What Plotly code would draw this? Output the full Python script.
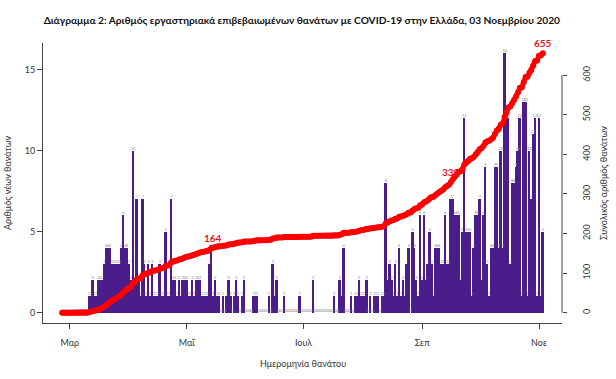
import numpy as np
import pandas as pd
import plotly.graph_objects as go

# ---------------- data (daily lab-confirmed COVID-19 deaths, Greece) ----------------
start_date = "2020-02-26"
feb = [0, 0, 0, 0]
mar = [0, 0, 0, 0, 0, 0, 0, 0, 0, 0, 1, 1, 2, 1, 1, 2, 2, 2, 3, 4,
       4, 4, 3, 3, 3, 3, 3, 4, 6, 4, 4]
apr = [3, 2, 10, 2, 7, 2, 1, 7, 3, 1, 3, 1, 3, 1, 1, 1, 3, 1, 1, 5,
       1, 1, 7, 2, 2, 1, 2, 1, 2, 2]
may = [2, 1, 1, 2, 1, 2, 2, 2, 1, 1, 1, 1, 3, 4, 1, 2, 1, 1, 0, 1,
       0, 1, 2, 1, 0, 1, 2, 1, 0, 1, 2]
jun = [0, 0, 0, 0, 1, 1, 1, 0, 0, 0, 0, 0, 1, 0, 3, 1, 2, 0, 0, 0,
       1, 0, 0, 0, 0, 0, 0, 0, 1, 0]
jul = [0, 0, 0, 0, 0, 2, 0, 0, 0, 0, 0, 0, 0, 0, 0, 0, 1, 0, 0, 2,
       1, 4, 0, 0, 0, 1, 0, 1, 1, 2, 1]
aug = [1, 1, 2, 0, 1, 0, 1, 1, 1, 0, 1, 1, 8, 2, 3, 2, 1, 3, 1, 4,
       1, 2, 1, 3, 4, 0, 5, 4, 2, 1, 6]
sep = [2, 6, 2, 3, 5, 3, 1, 4, 4, 4, 3, 3, 6, 3, 3, 7, 7, 6, 6, 6,
       2, 5, 12, 5, 5, 5, 1, 4, 6, 6]
octo = [7, 2, 6, 9, 3, 1, 4, 4, 9, 9, 4, 10, 4, 16, 12, 12, 3, 8, 8, 9,
        10, 12, 1, 13, 13, 1, 10, 7, 11, 12, 1]
nov = [12, 1, 5]

month_ticks = ["2020-03-01", "2020-05-01", "2020-07-01", "2020-09-01", "2020-11-01"]
month_labels = ["Μαρ", "Μαΐ", "Ιουλ", "Σεπ", "Νοε"]
label_dates = ["2020-05-15", "2020-09-16", "2020-11-03"]

title_text = "Διάγραμμα 2: Αριθμός εργαστηριακά επιβεβαιωμένων θανάτων με COVID-19 στην Ελλάδα, 03 Νοεμβρίου 2020"
y_title = "Αριθμός νέων θανάτων"
y2_title = "Συνολικός αριθμός θανάτων"
x_title = "Ημερομηνία θανάτου"

# ---------------- derived ----------------
daily = feb + mar + apr + may + jun + jul + aug + sep + octo + nov
dates = pd.date_range(start_date, periods=len(daily), freq="D")
cumulative = np.cumsum(daily)
cum_series = pd.Series(cumulative, index=dates)

ymax = max(daily)
cmax = int(cumulative[-1])
pad_l = 0.04 * ymax
pad_r = 0.04 * cmax
span_days = (dates[-1] - dates[0]).days
xpad = pd.Timedelta(days=round(0.04 * span_days))

PURPLE = "#4b1d8b"
RED = "#ff0000"
AXIS = "#444444"
TXT = "#333333"
FONT = "Lato, 'Open Sans', sans-serif"

fig = go.Figure()
fig.add_trace(go.Bar(
    x=dates, y=daily, marker=dict(color=PURPLE, line=dict(width=0)),
    yaxis="y", showlegend=False, hoverinfo="skip"))
fig.add_trace(go.Scatter(
    x=dates, y=daily, mode="text", text=[str(v) for v in daily],
    textposition="top center", textfont=dict(size=4, color="#8a8a8a", family=FONT),
    yaxis="y", showlegend=False, hoverinfo="skip", cliponaxis=False))
fig.add_trace(go.Scatter(
    x=dates, y=cumulative, mode="lines+markers",
    line=dict(color=RED, width=5), marker=dict(color=RED, size=6),
    yaxis="y2", showlegend=False, hoverinfo="skip"))

annotations = []
for d in label_dates:
    v = int(cum_series[pd.Timestamp(d)])
    annotations.append(dict(
        x=d, y=v, xref="x", yref="y2", text=f"<b>{v}</b>", showarrow=False,
        yshift=10, xanchor="center", yanchor="middle",
        font=dict(size=10, color="#e8142a", family=FONT)))

annotations += [
    dict(text=y_title, xref="paper", yref="paper", x=0, y=0.5, xshift=-36,
         xanchor="center", yanchor="middle",
         textangle=-90, showarrow=False, font=dict(size=9, color=TXT, family=FONT)),
    dict(text=y2_title, xref="paper", yref="paper", x=1, y=0.5, xshift=41,
         xanchor="center", yanchor="middle",
         textangle=-90, showarrow=False, font=dict(size=9, color=TXT, family=FONT)),
    dict(text=x_title, xref="paper", yref="paper", x=0.5, y=0, yshift=-40,
         xanchor="center", yanchor="middle",
         showarrow=False, font=dict(size=9, color=TXT, family=FONT)),
]

fig.update_layout(
    width=616, height=379,
    margin=dict(l=43, r=54, t=43, b=56),
    paper_bgcolor="white", plot_bgcolor="white",
    bargap=0,
    title=dict(text=f"<b>{title_text}</b>", x=0.49, xanchor="center",
               y=1 - 20 / 379, yanchor="middle",
               font=dict(size=10.2, color="#111111", family=FONT)),
    xaxis=dict(type="date", range=[dates[0] - xpad, dates[-1] + xpad],
               tickvals=month_ticks, ticktext=month_labels,
               showline=True, linecolor=AXIS, linewidth=1, mirror=False,
               ticks="outside", ticklen=5, tickcolor=AXIS,
               ticklabelstandoff=6,
               showgrid=False, zeroline=False,
               tickfont=dict(size=9, color=TXT, family=FONT)),
    yaxis=dict(range=[-pad_l, ymax + pad_l], tickvals=[0, 5, 10, 15],
               showline=True, linecolor=AXIS, linewidth=1,
               ticks="outside", ticklen=5, tickcolor=AXIS,
               showgrid=False, zeroline=False,
               tickfont=dict(size=9, color=TXT, family=FONT)),
    yaxis2=dict(range=[-pad_r, cmax + pad_r], overlaying="y", side="right",
                tickvals=list(range(0, 601, 100)), tickangle=-90,
                showline=False, ticks="outside", ticklen=4, tickcolor=AXIS,
                ticklabelstandoff=12,
                showgrid=False, zeroline=False,
                tickfont=dict(size=9, color=TXT, family=FONT)),
    shapes=[dict(type="line", xref="paper", x0=1, x1=1, yref="y2", y0=0, y1=600,
                 line=dict(color=AXIS, width=1))],
    annotations=annotations,
)

fig.write_html("out.html", config={"displayModeBar": False},
               post_script="document.body.style.margin='0';document.body.style.padding='0';")
